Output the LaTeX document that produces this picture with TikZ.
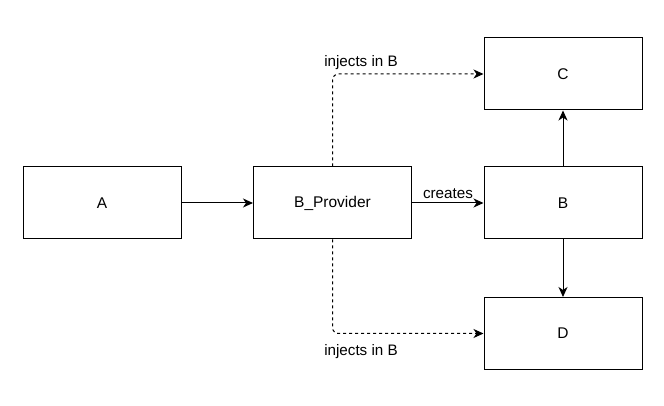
\documentclass[tikz,border=0pt]{standalone}
\usepackage{fontspec}
\setmainfont{Liberation Sans}
\usetikzlibrary{arrows.meta}
\begin{document}
\begin{tikzpicture}[x=1pt,y=1pt,
  box/.style={draw,line width=1pt,minimum width=158pt,minimum height=72pt,inner sep=0pt,font=\fontsize{15.5}{18}\selectfont},
  conn/.style={line width=1pt,-{Stealth[length=10pt,width=9pt,inset=3pt]}},
  dconn/.style={conn,dash pattern=on 3pt off 3pt,rounded corners=6pt},
  lbl/.style={font=\fontsize{15.2}{18}\selectfont,inner sep=0pt}]
\useasboundingbox (0,0) rectangle (664,406);
\node[box] (A) at (102,203) {A};
\node[box] (Bp) at (332.5,203) {B\_Provider};
\node[box] (B) at (563,203) {B};
\node[box] (C) at (563,332) {C};
\node[box] (D) at (563,72.5) {D};
\draw[conn] (A) -- (Bp);
\draw[conn] (Bp) -- (B);
\draw[conn] (B) -- (C);
\draw[conn] (B) -- (D);
\draw[dconn] (Bp.north) |- (C.west);
\draw[dconn] (Bp.south) |- (D.west);
\node[lbl] (l1) at (361,343) {injects in B};
\node[lbl] (l2) at (361,54) {injects in B};
\node[lbl] (l3) at (448,212) {creates};
\end{tikzpicture}
\end{document}
